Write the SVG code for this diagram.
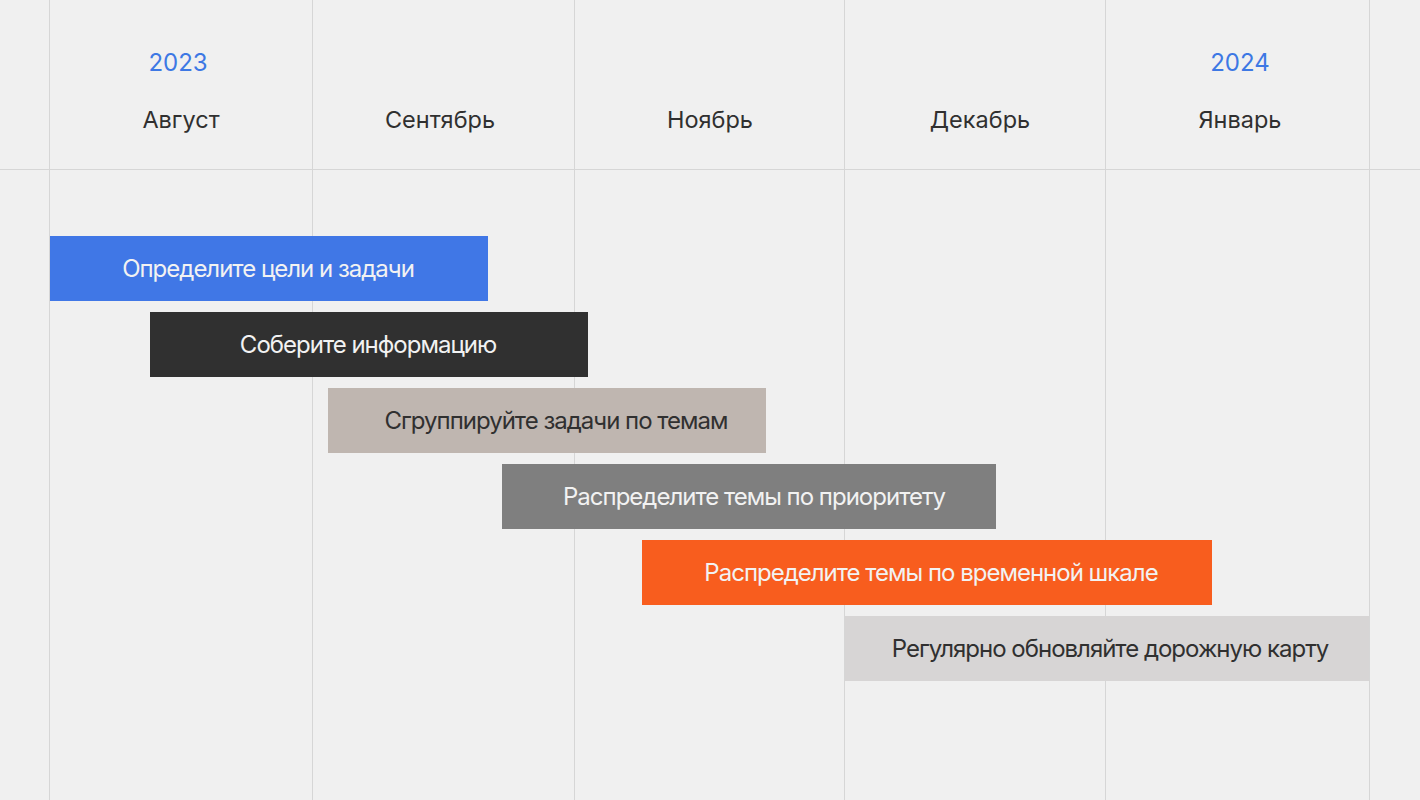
<svg xmlns="http://www.w3.org/2000/svg" width="1420" height="800" viewBox="0 0 1420 800">
<style>
.grid{stroke:#d6d6d6;stroke-width:1;fill:none}
.year{font-family:Inter,"Liberation Sans",sans-serif;font-size:24px;fill:#3d78e4;text-anchor:middle}
.month{font-family:Inter,"Liberation Sans",sans-serif;font-size:23.5px;fill:#303030;text-anchor:middle}
.lbl{font-family:Inter,"Liberation Sans",sans-serif;font-size:24px;text-anchor:middle;letter-spacing:-1px}
.lt{fill:#f2f2f2}
.dk{fill:#303030}
</style>
<rect width="1420" height="800" fill="#f0f0f0"/>
<g id="grid">
<line class="grid" x1="49.5" y1="0" x2="49.5" y2="800"/>
<line class="grid" x1="312.5" y1="0" x2="312.5" y2="800"/>
<line class="grid" x1="574.5" y1="0" x2="574.5" y2="800"/>
<line class="grid" x1="844.5" y1="0" x2="844.5" y2="800"/>
<line class="grid" x1="1105.5" y1="0" x2="1105.5" y2="800"/>
<line class="grid" x1="1369.5" y1="0" x2="1369.5" y2="800"/>
<line class="grid" x1="0" y1="169.5" x2="1420" y2="169.5"/>
</g>
<g id="header">
<text class="year" x="178" y="70.5">2023</text>
<text class="year" x="1240" y="70.5">2024</text>
<text class="month" x="181" y="128">Август</text>
<text class="month" x="440" y="128">Сентябрь</text>
<text class="month" x="710" y="128">Ноябрь</text>
<text class="month" x="980" y="128">Декабрь</text>
<text class="month" x="1240" y="128">Январь</text>
</g>
<g id="task1"><rect x="50" y="236" width="438" height="65" fill="#4077e6"/><text class="lbl lt" x="268" y="277">Определите цели и задачи</text></g>
<g id="task2"><rect x="150" y="312" width="438" height="65" fill="#303030"/><text class="lbl lt" x="368" y="353">Соберите информацию</text></g>
<g id="task3"><rect x="328" y="388" width="438" height="65" fill="#bfb6b0"/><text class="lbl dk" x="556" y="429">Сгруппируйте задачи по темам</text></g>
<g id="task4"><rect x="502" y="464" width="494" height="65" fill="#7f7f7f"/><text class="lbl lt" x="754" y="505">Распределите темы по приоритету</text></g>
<g id="task5"><rect x="642" y="540" width="570" height="65" fill="#f85d1e"/><text class="lbl lt" x="931" y="581">Распределите темы по временной шкале</text></g>
<g id="task6"><rect x="845" y="616" width="524" height="65" fill="#d7d5d5"/><text class="lbl dk" x="1110" y="657">Регулярно обновляйте дорожную карту</text></g>
<g id="connectors"></g>
</svg>
